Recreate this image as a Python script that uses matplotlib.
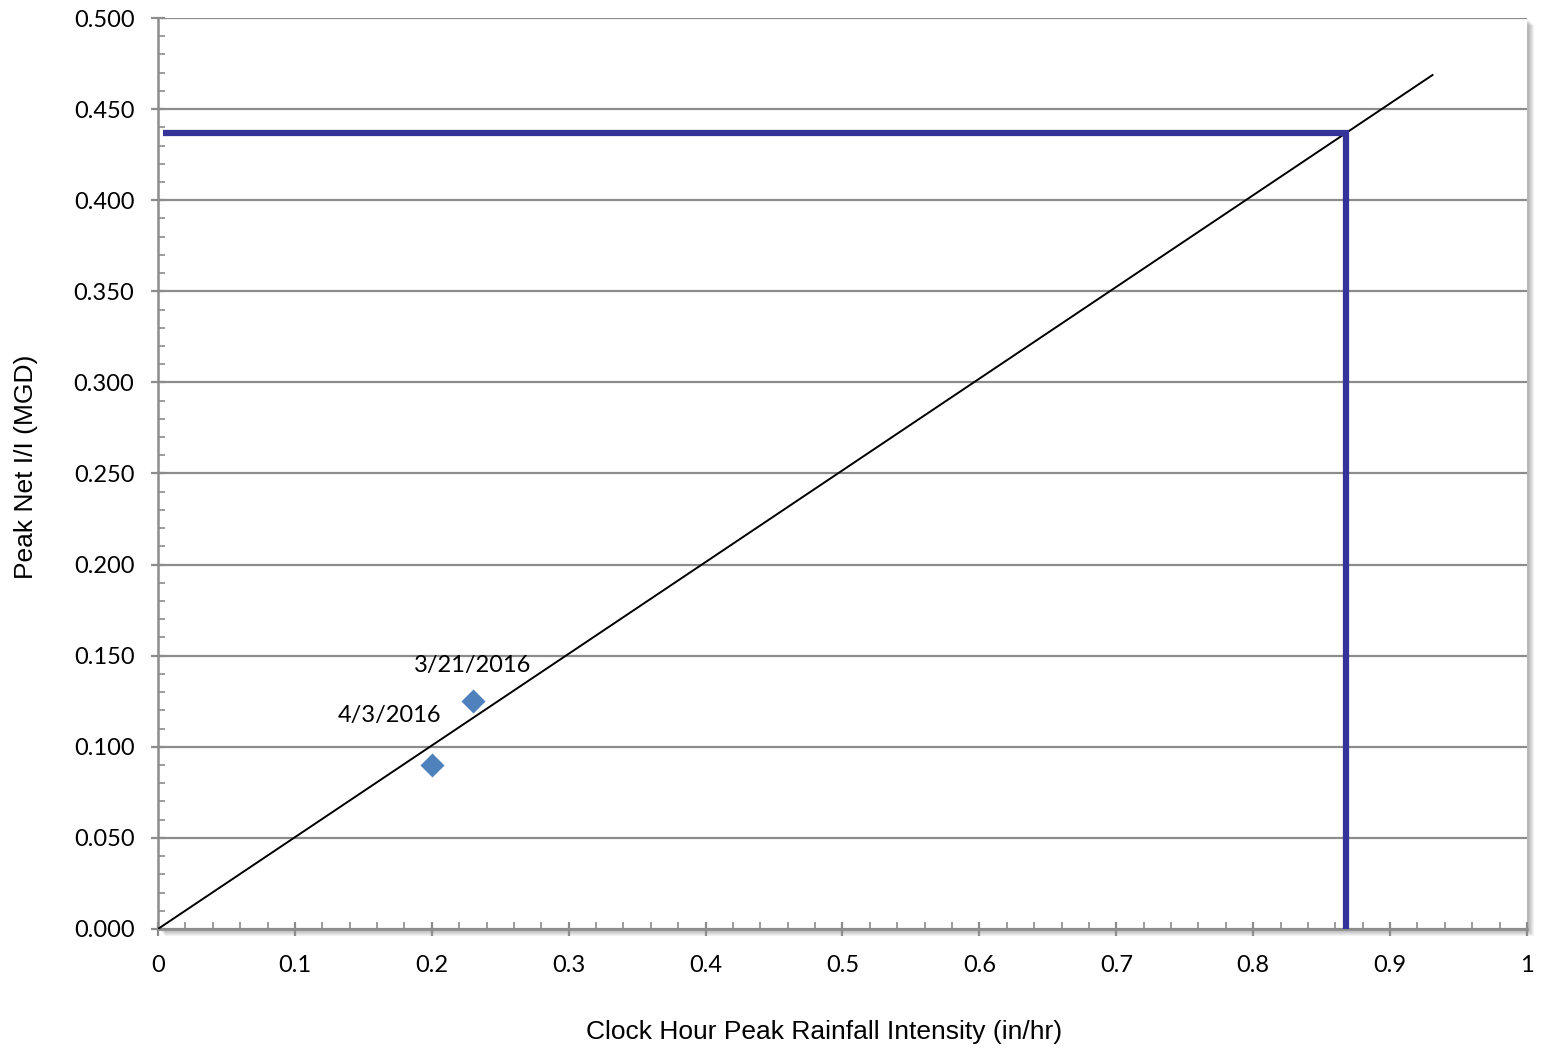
import matplotlib
matplotlib.use("Agg")
import matplotlib.pyplot as plt
from matplotlib.patches import Rectangle
from matplotlib.ticker import MultipleLocator, FormatStrFormatter, FuncFormatter

# Observed storm events
event_labels = ["4/3/2016", "3/21/2016"]
rain_intensity = [0.20, 0.23]      # in/hr
peak_ii = [0.090, 0.125]           # MGD

# Fitted line through origin
fit_x = [0.0, 0.931]
fit_y = [0.0, 0.4687]

# Design storm readout
design_intensity = 0.868
design_peak = 0.437
design_x_start = 0.004

fig = plt.figure(figsize=(15.43, 10.53), dpi=100)
ax_pos = [0.1024, 0.1178, 0.8872, 0.8651]

# soft drop shadow behind the plot area (offset right/down)
px_w, px_h = 1 / 1543, 1 / 1053
for k in range(6):
    dx = (2 + k) * px_w
    dy = (2 + k) * px_h
    fig.patches.append(Rectangle((ax_pos[0] + dx, ax_pos[1] - dy), ax_pos[2], ax_pos[3],
                                 transform=fig.transFigure, facecolor="black",
                                 alpha=0.05, edgecolor="none", zorder=0))

ax = fig.add_axes(ax_pos)
ax.set_zorder(1)
ax.patch.set_facecolor("white")

tick_font = "Lato"
title_font = "Liberation Sans"
tick_size = 17
title_size = 19

ax.set_xlim(0, 1)
ax.set_ylim(0, 0.5)

ax.yaxis.set_major_locator(MultipleLocator(0.05))
ax.yaxis.set_minor_locator(MultipleLocator(0.01))
ax.xaxis.set_major_locator(MultipleLocator(0.1))
ax.xaxis.set_minor_locator(MultipleLocator(0.02))
ax.yaxis.set_major_formatter(FormatStrFormatter("%.3f"))
ax.xaxis.set_major_formatter(FuncFormatter(
    lambda v, p: "0" if abs(v) < 1e-9 else ("1" if abs(v - 1) < 1e-9 else f"{v:.1f}")))

ax.grid(axis="y", which="major", color="#8c8c8c", linewidth=1.6)
ax.set_axisbelow(True)

for s in ["top", "right"]:
    ax.spines[s].set_visible(False)
for s in ["left", "bottom"]:
    ax.spines[s].set_color("#8c8c8c")
    ax.spines[s].set_linewidth(1.8)

ax.tick_params(axis="both", which="major", direction="inout", length=10, width=1.6, color="#8c8c8c",
               labelsize=tick_size)
ax.tick_params(axis="x", which="major", pad=14)
ax.tick_params(axis="y", which="major", pad=12)
ax.tick_params(axis="both", which="minor", direction="in", length=5, width=1.2, color="#8c8c8c")
for lab in ax.get_xticklabels() + ax.get_yticklabels():
    lab.set_fontfamily(tick_font)

# fit line
ax.plot(fit_x, fit_y, color="black", linewidth=1.4, zorder=3)

# design readout lines
ax.plot([design_x_start, design_intensity, design_intensity], [design_peak, design_peak, 0],
        color="#333399", linewidth=4.5, solid_joinstyle="miter", solid_capstyle="butt",
        zorder=4, clip_on=False)

# events
ax.scatter(rain_intensity, peak_ii, marker="D", s=150, color="#4f81bd", zorder=5, linewidths=0)
label_offsets = [(-30.6, 35.3), (0, 25.9)]
for lbl, x, y, off in zip(event_labels, rain_intensity, peak_ii, label_offsets):
    ax.annotate(lbl, (x, y), xytext=off, textcoords="offset points", ha="center", va="center",
                fontsize=tick_size, fontfamily=tick_font)

ax.set_xlabel("Clock Hour Peak Rainfall Intensity (in/hr)", fontsize=title_size, fontfamily=title_font)
ax.set_ylabel("Peak Net I/I (MGD)", fontsize=title_size, fontfamily=title_font)
ax.xaxis.set_label_coords(0.4865, -0.113)
ax.xaxis.label.set_va("center")
ax.yaxis.set_label_coords(-0.0964, 0.5077)
ax.yaxis.label.set_va("center")

fig.savefig("out.png", dpi=100)
